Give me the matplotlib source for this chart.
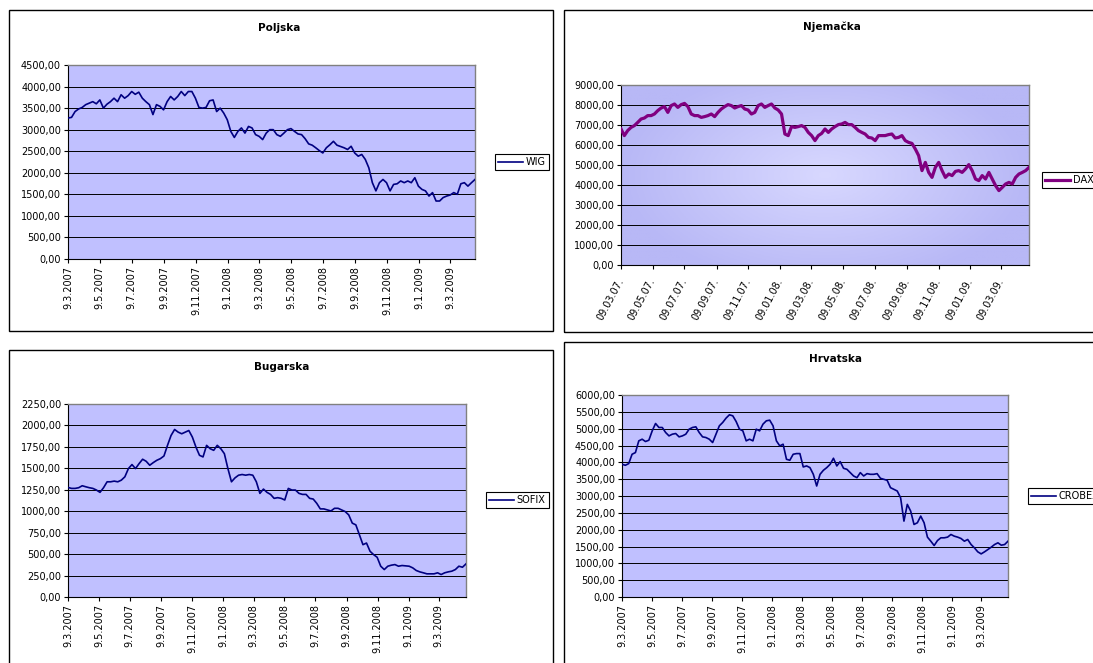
import matplotlib
matplotlib.use('Agg')
import matplotlib.pyplot as plt
import matplotlib.dates as mdates
from matplotlib.patches import Rectangle
from matplotlib.ticker import FuncFormatter, MultipleLocator
import numpy as np
import pandas as pd

plt.rcParams['font.family'] = ['DejaVu Sans']

W, H = 1093, 663
START = '2007-03-09'

# values (roughly weekly)
wig = [3270, 3285, 3420, 3480, 3515, 3580, 3615, 3650, 3600, 3690, 3500, 3590, 3650, 3730, 3650,
       3810, 3730, 3790, 3885, 3820, 3870, 3730, 3650, 3580, 3350, 3580, 3540, 3460, 3650, 3770,
       3690, 3770, 3885, 3790, 3885, 3885, 3730, 3515, 3500, 3515, 3670, 3690, 3420, 3500, 3385,
       3230, 2960, 2820, 2960, 3040, 2920, 3075, 3040, 2885, 2845, 2770, 2920, 3000, 3000, 2885,
       2845, 2920, 3000, 3025, 2960, 2900, 2885, 2790, 2670, 2640, 2580, 2515, 2460, 2580, 2650,
       2730, 2640, 2610, 2580, 2540, 2615, 2460, 2385, 2425, 2310, 2115, 1770, 1580, 1770, 1845,
       1770, 1580, 1730, 1745, 1810, 1770, 1810, 1770, 1885, 1690, 1615, 1580, 1460, 1540, 1345,
       1345, 1425, 1460, 1485, 1540, 1500, 1745, 1770, 1690, 1770, 1845]

dax = [6800, 6470, 6720, 6880, 6970, 7130, 7300, 7350, 7470, 7470, 7550, 7720, 7850, 7920, 7630,
       7970, 8050, 7880, 8020, 8080, 7920, 7550, 7470, 7470, 7380, 7420, 7470, 7550, 7420, 7630,
       7800, 7920, 8020, 7970, 7850, 7920, 7970, 7800, 7750, 7550, 7630, 7970, 8050, 7880, 7970,
       8050, 7850, 7750, 7550, 6550, 6470, 6920, 6880, 6920, 6970, 6880, 6630, 6470, 6220, 6470,
       6580, 6800, 6630, 6800, 6920, 7020, 7050, 7130, 7020, 7020, 6880, 6720, 6630, 6550, 6380,
       6350, 6220, 6470, 6470, 6470, 6520, 6550, 6350, 6380, 6470, 6220, 6130, 6080, 5800, 5470,
       4720, 5130, 4630, 4380, 4880, 5130, 4720, 4380, 4550, 4470, 4680, 4720, 4630, 4800, 5020,
       4720, 4300, 4220, 4470, 4300, 4630, 4300, 3970, 3720, 3880, 4050, 4130, 4050, 4380, 4550,
       4630, 4720, 4880]

sofix = [1277, 1266, 1266, 1274, 1297, 1285, 1274, 1266, 1247, 1220, 1274, 1343, 1343, 1351, 1343,
         1362, 1401, 1497, 1544, 1497, 1555, 1606, 1582, 1536, 1567, 1594, 1613, 1644, 1768, 1883,
         1953, 1922, 1903, 1922, 1941, 1864, 1748, 1652, 1633, 1768, 1729, 1710, 1768, 1729, 1671,
         1497, 1343, 1389, 1420, 1428, 1420, 1428, 1420, 1343, 1208, 1258, 1220, 1196, 1150, 1158,
         1150, 1131, 1266, 1247, 1247, 1208, 1196, 1196, 1150, 1142, 1092, 1027, 1027, 1015, 1003,
         1034, 1034, 1015, 996, 957, 861, 841, 726, 610, 629, 533, 494, 463, 359, 320,
         359, 371, 378, 359, 367, 363, 359, 340, 309, 293, 282, 270, 270, 270, 282,
         262, 282, 293, 301, 320, 359, 347, 386]

crobex = [3942, 3913, 3962, 4240, 4290, 4638, 4687, 4618, 4657, 4935, 5154, 5035, 5035, 4886, 4786,
          4836, 4856, 4757, 4786, 4836, 4985, 5035, 5055, 4886, 4757, 4737, 4687, 4588, 4836, 5084,
          5184, 5313, 5412, 5382, 5213, 4985, 4935, 4638, 4687, 4638, 4985, 4935, 5134, 5233, 5253,
          5084, 4638, 4489, 4538, 4091, 4062, 4240, 4260, 4260, 3863, 3893, 3843, 3644, 3297, 3644,
          3764, 3843, 3942, 4121, 3893, 4022, 3823, 3793, 3694, 3595, 3545, 3694, 3595, 3664, 3644,
          3644, 3664, 3525, 3496, 3466, 3247, 3198, 3148, 2949, 2254, 2751, 2552, 2155, 2205, 2403,
          2205, 1778, 1658, 1529, 1678, 1758, 1758, 1778, 1857, 1807, 1778, 1738, 1658, 1708, 1559,
          1460, 1341, 1281, 1341, 1410, 1480, 1559, 1609, 1539, 1559, 1658]


def fmt_dmy(v, pos):
    d = mdates.num2date(v)
    return "%d.%d.%d" % (d.day, d.month, d.year)


def fmt_de(v, pos):
    d = mdates.num2date(v)
    return d.strftime('%d.%m.%y.')


def fmt_val(v, pos):
    return ("%.2f" % v).replace('.', ',')


def frame(fig, x0, y0, x1, y1):
    fig.add_artist(Rectangle((x0 / W, 1 - y1 / H), (x1 - x0) / W, (y1 - y0) / H,
                             transform=fig.transFigure, fill=False, ec='black', lw=1.0))


def panel(fig, box, plot, title, title_xy, name, values, end, color, lw,
          ymax, ystep, leg_xy, xfmt, rot, gradient=False):
    frame(fig, *box)
    x0, y0, x1, y1 = plot
    ax = fig.add_axes([x0 / W, 1 - y1 / H, (x1 - x0) / W, (y1 - y0) / H])
    if gradient:
        gx, gy = np.meshgrid(np.linspace(-1, 1, 200), np.linspace(-1, 1, 100))
        r = np.clip(np.sqrt(gx ** 2 + (gy * 0.8) ** 2), 0, 1)
        c0 = np.array([216, 216, 255]) / 255
        c1 = np.array([184, 184, 246]) / 255
        img = c0 + (c1 - c0) * r[..., None]
        ax.imshow(img, extent=(0, 1, 0, 1), transform=ax.transAxes, aspect='auto', zorder=0)
    else:
        ax.set_facecolor('#C0C0FF')

    dates = pd.date_range(START, end, periods=len(values))
    ax.plot(dates, values, color=color, lw=lw, label=name, zorder=3, solid_joinstyle='round')
    ax.set_xlim(pd.Timestamp(START), pd.Timestamp(end))
    ax.set_ylim(0, ymax)

    ax.yaxis.set_major_locator(MultipleLocator(ystep))
    ax.yaxis.set_major_formatter(FuncFormatter(fmt_val))
    ax.xaxis.set_major_locator(mdates.MonthLocator(bymonth=[1, 3, 5, 7, 9, 11], bymonthday=9))
    ax.xaxis.set_major_formatter(FuncFormatter(xfmt))
    ax.grid(axis='y', color='black', lw=0.7)
    ax.tick_params(direction='out', length=3, width=0.8, labelsize=7, pad=2)
    if rot == 90:
        plt.setp(ax.get_xticklabels(), rotation=90, ha='center', va='top')
    else:
        ax.tick_params(axis='x', pad=7)
        plt.setp(ax.get_xticklabels(), rotation=rot, ha='right', va='center', rotation_mode='anchor')

    for s in ['top', 'right']:
        ax.spines[s].set_color('#808080')
        ax.spines[s].set_linewidth(1.0)
    for s in ['left', 'bottom']:
        ax.spines[s].set_color('black')
        ax.spines[s].set_linewidth(0.8)

    fig.text(title_xy[0] / W, 1 - title_xy[1] / H, title, ha='center', va='center',
             fontsize=7.5, fontweight='bold')

    leg = ax.legend(loc='center left', bbox_to_anchor=(leg_xy[0] / W, 1 - leg_xy[1] / H),
                    bbox_transform=fig.transFigure, borderaxespad=0, fontsize=7,
                    fancybox=False, edgecolor='black', framealpha=1, handlelength=2.5,
                    handletextpad=0.3, borderpad=0.35)
    leg.get_frame().set_linewidth(0.8)
    return ax


fig = plt.figure(figsize=(W / 100, H / 100), dpi=100)

panel(fig, (9, 10, 553, 331), (68, 65, 475, 259), 'Poljska', (279, 28), 'WIG', wig,
      '2009-04-26', '#000080', 1.2, 4500, 500, (495, 162), fmt_dmy, 90)
panel(fig, (564, 10, 1100, 332), (621, 85, 1029, 265), 'Njemačka', (832, 27), 'DAX', dax,
      '2009-05-02', '#800080', 2.3, 9000, 1000, (1042, 180), fmt_de, 62, gradient=True)
panel(fig, (9, 350, 553, 670), (68, 404, 466, 597), 'Bugarska', (282, 367), 'SOFIX', sofix,
      '2009-05-02', '#000080', 1.2, 2250, 250, (486, 500), fmt_dmy, 90)
panel(fig, (564, 342, 1100, 670), (622, 395, 1008, 597), 'Hrvatska', (836, 359), 'CROBEX', crobex,
      '2009-05-03', '#000080', 1.2, 6000, 500, (1028, 496), fmt_dmy, 90)

fig.savefig('out.png', dpi=100)
